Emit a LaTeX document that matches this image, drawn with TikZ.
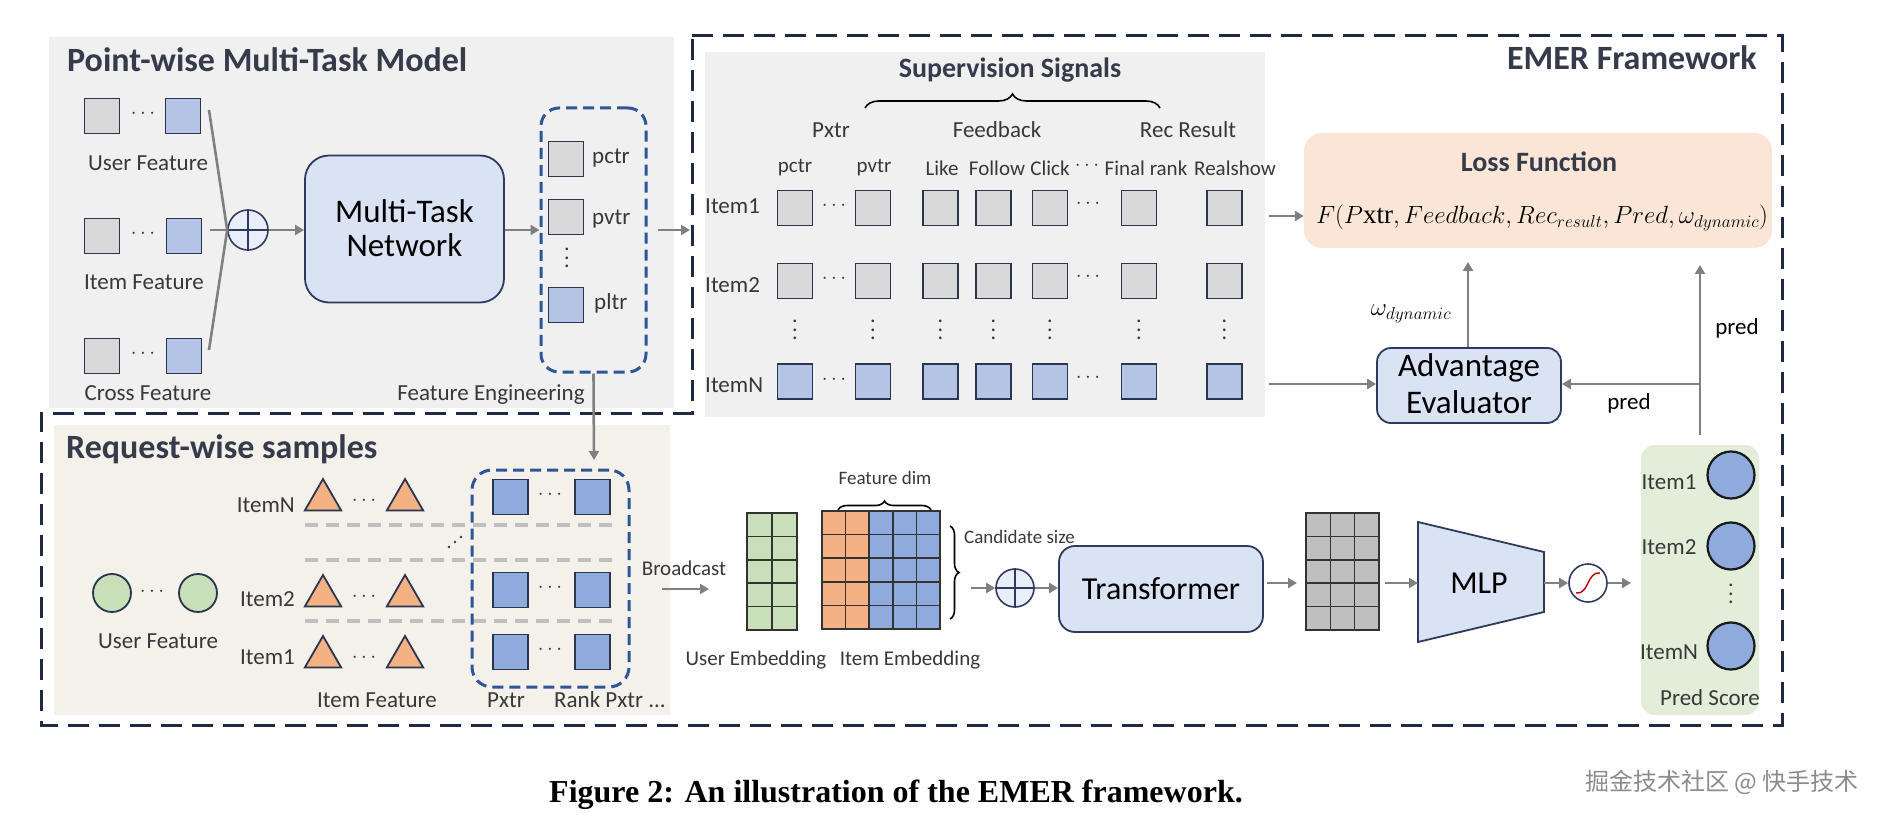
\documentclass[tikz,border=0pt]{standalone}
\usepackage{fontspec}
\setmainfont{Carlito}
\newfontfamily\capfont{Liberation Serif}
\newfontfamily\cjkfont{Noto Sans CJK SC}
\usetikzlibrary{arrows.meta,shapes.geometric,decorations.pathreplacing,calc}
\definecolor{framec}{HTML}{1F2A44}
\definecolor{titlec}{HTML}{363B4C}
\definecolor{txtc}{HTML}{383838}
\definecolor{sqline}{HTML}{2A3650}
\definecolor{sqgray}{HTML}{D9D9D9}
\definecolor{sqlblue}{HTML}{B4C4E4}
\definecolor{sqblue}{HTML}{8FAADC}
\definecolor{orng}{HTML}{F4B183}
\definecolor{grn}{HTML}{C9DFB9}
\definecolor{panelgray}{HTML}{F0F0F0}
\definecolor{beige}{HTML}{F4F1EB}
\definecolor{peach}{HTML}{FAE5D6}
\definecolor{pgreen}{HTML}{E2EED9}
\definecolor{netfill}{HTML}{DAE3F3}
\definecolor{netdraw}{HTML}{2E3B5E}
\definecolor{arrgray}{HTML}{808080}
\definecolor{pxdash}{HTML}{2F5597}
\definecolor{sepgray}{HTML}{BFBFBF}
\definecolor{gridgray}{HTML}{BFBFBF}
\definecolor{wmc}{HTML}{8C8C8C}
\newcommand\fsz[1]{\fontsize{#1}{#1}\selectfont}
\newcommand\vdd{\vbox{\baselineskip=8.5pt\lineskiplimit=0pt\hbox{.}\hbox{.}\hbox{.}}}
\begin{document}
\begin{tikzpicture}[x=1pt,y=-1pt,
  lbl/.style={inner sep=0pt, text=txtc, font=\fsz{23}},
  clbl/.style={inner sep=0pt, text=txtc, font=\fsz{21}},
  ttl/.style={inner sep=0pt, text=titlec, font=\bfseries\fsz{34}},
  sttl/.style={inner sep=0pt, text=titlec, font=\bfseries\fsz{28}},
  dotsn/.style={inner sep=0pt, text=txtc, font=\fsz{20}},
  vdotsn/.style={inner sep=0pt, text=txtc, font=\fsz{22}},
  sq/.style={draw=sqline, line width=1.8pt, minimum width=35pt, minimum height=35pt, inner sep=0pt},
  arr/.style={draw=arrgray, line width=2.6pt, -{Triangle[length=9pt,width=10pt]}},
  gline/.style={draw=arrgray, line width=2.6pt},
  bigbox/.style={draw=netdraw, line width=1.8pt, fill=netfill, rounded corners=16pt, inner sep=0pt, align=center, text=black},
  plusc/.style={circle, draw=netdraw, line width=1.6pt, fill=netfill!60, minimum size=40pt, inner sep=0pt},
  frame/.style={draw=framec, line width=3pt, dash pattern=on 21pt off 10pt},
  pxbox/.style={draw=pxdash, line width=3pt, dash pattern=on 11pt off 6pt, rounded corners=18pt, inner sep=0pt},
  sep/.style={draw=sepgray, line width=3.5pt, dash pattern=on 13pt off 8pt},
  tri/.style={regular polygon, regular polygon sides=3, draw=sqline, line width=1.8pt, fill=orng, minimum size=42pt, inner sep=0pt},
  cell/.style={draw=black!80, line width=1.6pt},
  brc/.style={draw=black, line width=1.6pt, decorate},
]
\useasboundingbox (0,0) rectangle (1888,818);
\fill[white] (0,0) rectangle (1888,818);

% ---------- panels ----------
\fill[panelgray] (49,37) rectangle (674,408);
\fill[panelgray] (705,52) rectangle (1265,417);
\fill[beige] (54,425) rectangle (670,715);
\node[fill=peach, rounded corners=18pt, minimum width=468pt, minimum height=115pt, inner sep=0pt] (loss) at (1538,190.5) {};
\fill[pgreen, rounded corners=14pt] (1641,445) rectangle (1759,715);

% ---------- outer dashed frame ----------
\draw[frame] (692,36) -- (1782,36) -- (1782,725) -- (41,725) -- (41,413) -- (692,413) -- cycle;

% ---------- Point-wise Multi-Task Model ----------
\node[ttl, anchor=base west] (pwtitle) at (67,72) {Point-wise Multi-Task Model};

\node[sq, fill=sqgray] (uf1) at (102,116) {};
\node[sq, fill=sqlblue] (uf2) at (183,116) {};
\node[dotsn] (ufd) at (143,114) {$\cdots$};
\node[lbl] (ufl) at (148,163) {User Feature};

\node[sq, fill=sqgray] (if1) at (102,236) {};
\node[sq, fill=sqlblue] (if2) at (184,236) {};
\node[dotsn] (ifd) at (143,234) {$\cdots$};
\node[lbl] (ifl) at (144,282) {Item Feature};

\node[sq, fill=sqgray] (cf1) at (102,356) {};
\node[sq, fill=sqlblue] (cf2) at (184,356) {};
\node[dotsn] (cfd) at (143,354) {$\cdots$};
\node[lbl] (cfl) at (148,393) {Cross Feature};

\node[plusc] (plus1) at (248,230) {};
\draw[netdraw, line width=1.4pt] (plus1.north) -- (plus1.south) (plus1.west) -- (plus1.east);
\coordinate (fanA) at (209,110);
\coordinate (fanB) at (209,350);
\coordinate (fanL) at (210,230);
\draw[gline] (fanA) -- (plus1.west) -- (fanB);
\draw[gline] (fanL) -- (plus1.west);

\node[bigbox, minimum width=199pt, minimum height=147pt, rounded corners=24pt] (net) at (404.5,229) {};
\node[inner sep=0pt, font=\fsz{33}] (netl1) at (404.5,211) {Multi-Task};
\node[inner sep=0pt, font=\fsz{33}] (netl2) at (404.5,245) {Network};
\draw[arr] (plus1.east) -- (net.west |- plus1.east);

\node[pxbox, minimum width=105pt, minimum height=264pt] (fe) at (593.5,240) {};
\draw[arr] (net.east |- plus1) -- (fe.west |- plus1);
\node[sq, fill=sqgray] (pctr) at (566,159) {};
\node[sq, fill=sqgray] (pvtr) at (566,217) {};
\node[sq, fill=sqlblue] (pltr) at (566,305) {};
\node[vdotsn] (fevd) at (567,258) {\vdd};
\node[lbl, anchor=west] (pctrl) at (592,158) {pctr};
\node[lbl, anchor=west] (pvtrl) at (592,219) {pvtr};
\node[lbl, anchor=west] (pltrl) at (594,303) {pltr};
\node[lbl] (fel) at (491,395) {Feature Engineering};
\coordinate (feout) at (658,230);
\coordinate (emerin) at (690,230);
\draw[arr] (feout) -- (emerin);

% ---------- Supervision Signals ----------
\node[sttl] (supt) at (1010,70) {Supervision Signals};
\draw[brc, decoration={brace, amplitude=14pt}] (865,108) -- (1160,108);
\node[lbl] (hpxtr) at (831,130) {Pxtr};
\node[lbl] (hfb) at (997,130) {Feedback};
\node[lbl] (hrr) at (1188,130) {Rec Result};

\node[clbl] (c1) at (795,168) {pctr};
\node[clbl] (c2) at (874,168) {pvtr};
\node[clbl] (c3) at (942,168) {Like};
\node[clbl] (c4) at (997,168) {Follow};
\node[clbl] (c5) at (1050,168) {Click};
\node[dotsn] (c6) at (1087,166) {$\cdots$};
\node[clbl] (c7) at (1146,168) {Final rank};
\node[clbl] (c8) at (1235,168) {Realshow};

\foreach \c/\x in {1/795,2/873,3/940.5,4/993.5,5/1050,6/1139,7/1224.5} {
  \node[sq, fill=sqgray] (sa\c) at (\x,208) {};
  \node[sq, fill=sqgray] (sb\c) at (\x,281) {};
  \node[sq, fill=sqlblue] (sn\c) at (\x,381.5) {};
  \node[vdotsn] (sv\c) at (\x,330) {\vdd};
}
\foreach \r/\y in {a/208,b/281,n/381.5} {
  \node[dotsn] (sd1\r) at (834,\y-2) {$\cdots$};
  \node[dotsn] (sd2\r) at (1088,\y-4) {$\cdots$};
}
\node[lbl, anchor=west] (r1) at (705,206) {Item1};
\node[lbl, anchor=west] (r2) at (705,285) {Item2};
\node[lbl, anchor=west] (rn) at (705,385) {ItemN};

% ---------- Loss / Advantage ----------
\node[sttl] (losst) at (1539,162) {Loss Function};
\node[inner sep=0pt, font=\fsz{27}] (lossf) at (1542,218) {$F(P\mbox{\capfont xtr}, Feedback, Rec_{result}, Pred, \omega_{dynamic})$};
\coordinate (r1out) at (1269,216);
\draw[arr] (r1out) -- (loss.west |- r1out);

\node[bigbox, minimum width=184pt, minimum height=75pt, rounded corners=14pt] (adv) at (1469,385.5) {};
\node[inner sep=0pt, font=\fsz{33}] (advl1) at (1469,368) {Advantage};
\node[inner sep=0pt, font=\fsz{33}] (advl2) at (1469,402) {Evaluator};
\coordinate (rnout) at (1269,384);
\draw[arr] (rnout) -- (adv.west |- rnout);
\coordinate (lossin1) at (1468,262);
\draw[arr] (adv.north -| lossin1) -- (lossin1);
\node[inner sep=0pt, font=\fsz{27}] (omg) at (1411,314) {$\omega_{dynamic}$};

\coordinate (predbot) at (1700,435);
\coordinate (predtop) at (1700,265);
\coordinate (predj) at (1700,384);
\draw[arr] (predbot) -- (predtop);
\draw[arr] (predj) -- (adv.east |- predj);
\node[lbl, text=black] (pred1) at (1737,328) {pred};
\node[lbl, text=black] (pred2) at (1629,403) {pred};

% ---------- Request-wise samples ----------
\node[ttl, anchor=base west] (rwtitle) at (66,458) {Request-wise samples};
\draw[arr] (fe.south) -- (594,460) coordinate (fetip);

\node[circle, draw=sqline, line width=1.8pt, fill=grn, minimum width=38pt, inner sep=0pt] (u1) at (112,593) {};
\node[circle, draw=sqline, line width=1.8pt, fill=grn, minimum width=38pt, inner sep=0pt] (u2) at (198,593) {};
\node[dotsn] (ud) at (152,592) {$\cdots$};
\node[lbl] (ul) at (158,641) {User Feature};

\foreach \r/\y/\ly/\t in {n/500/505/ItemN, b/596/599/Item2, a/657/657/Item1} {
  \node[tri] (ta\r) at (323,\y) {};
  \node[tri] (tb\r) at (405,\y) {};
  \node[dotsn] (td\r) at (364,\y+1) {$\cdots$};
  \node[lbl, anchor=east] (tl\r) at (295,\ly) {\t};
}
\foreach \y in {525,560,621} \draw[sep] (305,\y) -- (616,\y);
\foreach \dx/\dy in {-6/5,0/0,6/-5} \fill[txtc] (455+\dx,542+\dy) circle (1.3pt);

\node[pxbox, minimum width=157pt, minimum height=217pt, rounded corners=20pt] (pxb) at (550.5,578.5) {};
\foreach \r/\y in {n/497,b/590,a/652} {
  \node[sq, fill=sqblue] (qa\r) at (510.5,\y) {};
  \node[sq, fill=sqblue] (qb\r) at (592.5,\y) {};
  \node[dotsn] (qd\r) at (550,\y-2) {$\cdots$};
}
\node[lbl] (ifl2) at (377,700) {Item Feature};
\node[lbl] (pxl) at (506,700) {Pxtr};
\node[lbl, anchor=west] (rpl) at (554,700) {Rank Pxtr ...};

% ---------- Broadcast / embeddings ----------
\node[clbl] (bc) at (684,568) {Broadcast};
\coordinate (bcs) at (662,589);
\coordinate (bce) at (709,589);
\draw[arr] (bcs) -- (bce);

\foreach \i in {0,...,4} \foreach \j in {0,1}
  \draw[cell, fill=grn] (747+\j*25, 513+\i*23.4) rectangle ++(25,23.4);
\foreach \i in {0,...,4} {
  \foreach \j in {0,1} \draw[cell, fill=orng] (822+\j*23.6, 511+\i*23.6) rectangle ++(23.6,23.6);
  \foreach \j in {2,3,4} \draw[cell, fill=sqblue] (822+\j*23.6, 511+\i*23.6) rectangle ++(23.6,23.6);
}
\draw[brc, decoration={brace, amplitude=9pt}] (838,510) -- (931,510);
\node[clbl, font=\fsz{19}] (fdl) at (885,478) {Feature dim};
\draw[brc, decoration={brace, amplitude=9pt}] (950,526) -- (950,619);
\node[clbl, font=\fsz{19}, anchor=west] (csl) at (964,537) {Candidate size};
\node[clbl] (uel) at (756,660) {User Embedding};
\node[clbl] (iel) at (910,660) {Item Embedding};

\node[plusc, minimum size=38pt] (plus2) at (1015,588) {};
\draw[netdraw, line width=1.4pt] (plus2.north) -- (plus2.south) (plus2.west) -- (plus2.east);
\coordinate (p2in) at (971,588);
\draw[arr] (p2in) -- (plus2.west);
\node[bigbox, minimum width=204pt, minimum height=86pt, rounded corners=16pt, font=\fsz{32}] (trf) at (1161,589) {Transformer};
\draw[arr] (plus2.east) -- (trf.west |- plus2.east);

\foreach \i in {0,...,4} \foreach \j in {0,1,2}
  \draw[cell, fill=gridgray] (1306+\j*24.3, 513+\i*23.4) rectangle ++(24.3,23.4);
\coordinate (tout) at (1267,583);
\coordinate (gin) at (1297,583);
\draw[arr] (tout) -- (gin);

\coordinate (gout) at (1385,583);
\draw[draw=netdraw, line width=1.8pt, fill=netfill] (1418,522) coordinate (mA) -- (1544,552) coordinate (mB) -- (1544,612) coordinate (mC) -- (1418,642) coordinate (mD) -- cycle;
\node[inner sep=0pt, font=\fsz{32}] (mlp) at (1479,583) {MLP};
\coordinate (mlpin) at (1418,583);
\coordinate (mlpout) at (1544,583);
\draw[arr] (gout) -- (mlpin);

\node[circle, draw=netdraw, line width=1.6pt, fill=white, minimum size=38pt, inner sep=0pt] (sig) at (1588,583) {};
\draw[arr] (mlpout) -- (sig.west);
\draw[red!75!black, line width=1.4pt] ([shift={(-12pt,-10pt)}]sig.center) .. controls ([shift={(1pt,-12pt)}]sig.center) and ([shift={(-1pt,12pt)}]sig.center) .. ([shift={(12pt,10pt)}]sig.center);
\coordinate (pin) at (1631,583);
\draw[arr] (sig.east) -- (pin);

\node[circle, draw=black!90, line width=2.2pt, fill=sqblue, minimum size=47pt, inner sep=0pt] (pc1) at (1731,475) {};
\node[circle, draw=black!90, line width=2.2pt, fill=sqblue, minimum size=47pt, inner sep=0pt] (pc2) at (1731,546) {};
\node[circle, draw=black!90, line width=2.2pt, fill=sqblue, minimum size=47pt, inner sep=0pt] (pcn) at (1731,646) {};
\node[vdotsn] (pcd) at (1731,594) {\vdd};
\node[lbl] (pl1) at (1669,482) {Item1};
\node[lbl] (pl2) at (1669,547) {Item2};
\node[lbl] (pln) at (1669,652) {ItemN};
\node[lbl] (psl) at (1710,698) {Pred Score};

% ---------- titles, caption ----------
\node[ttl, anchor=base east] (emert) at (1757,70) {EMER Framework};
\node[inner sep=0pt, font=\capfont\bfseries\fsz{32}] (cap) at (896,795) {Figure 2: An illustration of the EMER framework.};
\node[inner sep=0pt, font=\cjkfont\fsz{24}, text=wmc] (wm) at (1722,782) {掘金技术社区 @ 快手技术};
\end{tikzpicture}
\end{document}
